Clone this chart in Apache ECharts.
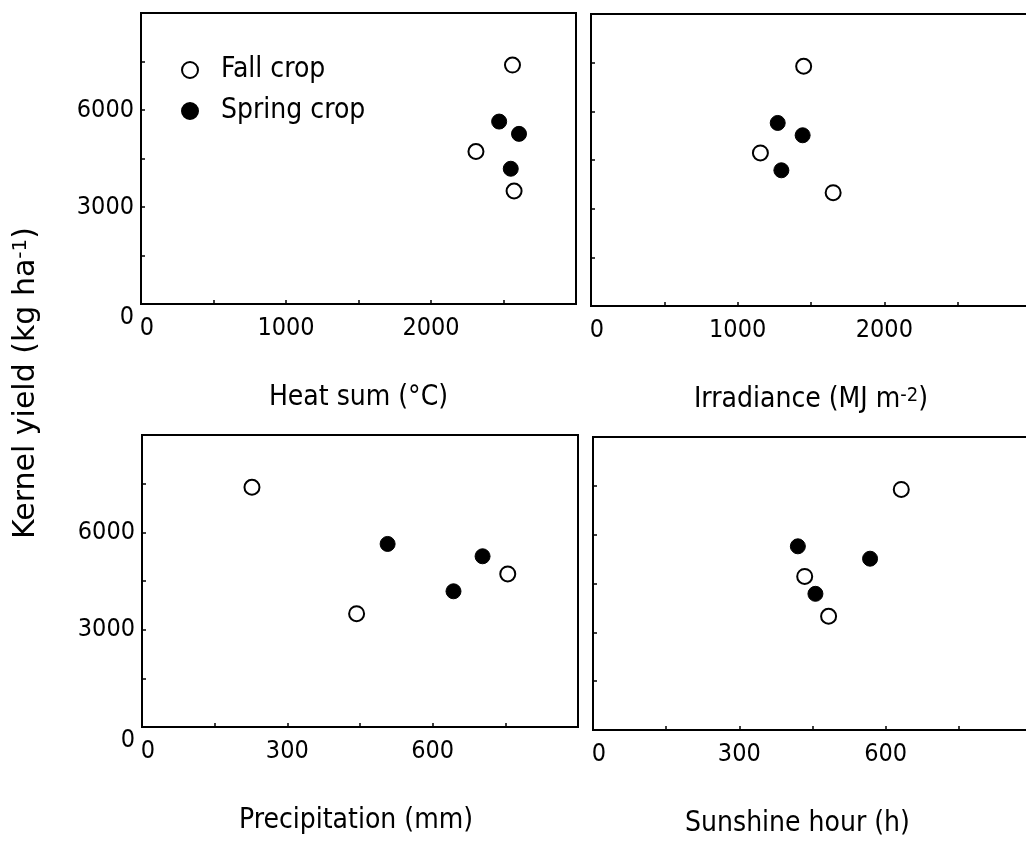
<!DOCTYPE html>
<html><head><meta charset="utf-8">
<script src="https://cdn.jsdelivr.net/npm/echarts@6/dist/echarts.min.js"></script>
<style>html,body{margin:0;padding:0;background:#fff}#c{width:1026px;height:847px}</style>
</head><body><div id="c"></div>
<script>
// Kernel yield (kg/ha) for each environment
const fallYield   = [7390, 4717, 3494];
const springYield = [5642, 5262, 4183];
// Heat sum (°C)
const fallHeat   = [2562, 2310, 2573];
const springHeat = [2470, 2607, 2550];
// Irradiance (MJ m-2)
const fallIrr   = [1450, 1155, 1651];
const springIrr = [1273, 1443, 1298];
// Precipitation (mm)
const fallPrec   = [227, 755, 443];
const springPrec = [507, 703, 643];
// Sunshine hour (h)
const fallSun   = [632, 434, 483];
const springSun = [420, 568, 456];
// tick labels
const yTickLabels = [0, 3000, 6000];
const xTickLabelsTop = [0, 1000, 2000];
const xTickLabelsBottom = [0, 300, 600];
const xTitles = ['Heat sum (°C)', 'Irradiance (MJ m{s|-2})', 'Precipitation (mm)', 'Sunshine hour (h)'];
const yTitle = 'Kernel yield (kg ha{s|-1})';

const FONT = '"DejaVu Sans Condensed","Liberation Sans",sans-serif';
const FS = 28;
const TFS = 25;
const richBase = {
  s: {fontSize: 20, fontFamily: FONT, color: '#000', verticalAlign: 'top', lineHeight: 20}
};

const grids = [
  {left: 141, top: 13, width: 435, height: 291},
  {left: 591, top: 14, width: 440, height: 292},
  {left: 142, top: 435, width: 436, height: 292},
  {left: 593, top: 437, width: 439, height: 293}
].map(g => Object.assign(g, {show: true, borderColor: '#000', borderWidth: 2, backgroundColor: 'transparent', outerBoundsMode: 'none', containLabel: false}));

const xMax = [3000, 3000, 900, 900];
const xInt = [500, 500, 150, 150];
const xLabs = [xTickLabelsTop, xTickLabelsTop, xTickLabelsBottom, xTickLabelsBottom];
const namePad = [[0,0,0,0],[0,0,0,0],[0,8,0,0],[0,30,0,0]];

const xAxis = grids.map((g, i) => ({
  type: 'value', gridIndex: i, min: 0, max: xMax[i], interval: xInt[i],
  axisLine: {show: false},
  splitLine: {show: false},
  axisTick: {show: true, inside: true, length: 4, lineStyle: {color: '#000', width: 1.5}},
  axisLabel: {
    show: true, margin: 12, color: '#000', fontFamily: FONT, fontSize: TFS,
    formatter: v => xLabs[i].includes(v) ? (v === 0 ? '{z|0}' : String(v)) : '',
    rich: {z: {fontFamily: FONT, fontSize: TFS, color: '#000', padding: [0, 0, 0, 12]}}
  },
  name: xTitles[i], nameLocation: 'middle', nameGap: 80,
  nameTextStyle: {color: '#000', fontFamily: FONT, fontSize: FS, padding: namePad[i], rich: richBase}
}));

const yAxis = grids.map((g, i) => ({
  type: 'value', gridIndex: i, min: 0, max: 9000, interval: 1500,
  axisLine: {show: false},
  splitLine: {show: false},
  axisTick: {show: true, inside: true, length: 4, lineStyle: {color: '#000', width: 1.5}},
  axisLabel: {
    show: i % 2 === 0, margin: 7, color: '#000', fontFamily: FONT, fontSize: TFS,
    formatter: v => yTickLabels.includes(v) ? (v === 0 ? '{z|0}' : String(v)) : '',
    rich: {z: {fontFamily: FONT, fontSize: TFS, color: '#000', padding: [26, 0, 0, 0]}}
  }
}));

const fallX = [fallHeat, fallIrr, fallPrec, fallSun];
const springX = [springHeat, springIrr, springPrec, springSun];
const series = [];
for (let i = 0; i < 4; i++) {
  series.push({
    type: 'scatter', name: 'Fall crop', xAxisIndex: i, yAxisIndex: i,
    symbol: 'circle', symbolSize: 15,
    itemStyle: {color: '#fff', borderColor: '#000', borderWidth: 2, opacity: 1},
    data: fallX[i].map((x, k) => [x, fallYield[k]])
  });
  series.push({
    type: 'scatter', name: 'Spring crop', xAxisIndex: i, yAxisIndex: i,
    symbol: 'circle', symbolSize: 15,
    itemStyle: {color: '#000', borderColor: '#000', borderWidth: 1, opacity: 1},
    data: springX[i].map((x, k) => [x, springYield[k]])
  });
}

const chart = echarts.init(document.getElementById('c'), null, {renderer: 'canvas'});
chart.setOption({
  animation: false,
  backgroundColor: '#fff',
  grid: grids,
  xAxis: xAxis,
  yAxis: yAxis,
  legend: {
    data: ['Fall crop', 'Spring crop'], orient: 'vertical', left: 176, top: 51,
    itemWidth: 16, itemHeight: 16, itemGap: 13, selectedMode: false,
    textStyle: {color: '#000', fontFamily: FONT, fontSize: FS, padding: [0, 0, 0, 18]}
  },
  graphic: [{
    type: 'text', x: 26, y: 383, rotation: Math.PI / 2,
    style: {
      text: yTitle, fill: '#000', fontFamily: '"DejaVu Sans",sans-serif', fontSize: 30,
      align: 'center', verticalAlign: 'middle',
      rich: {s: {fontSize: 20, fontFamily: '"DejaVu Sans",sans-serif', fill: '#000', verticalAlign: 'top', lineHeight: 20}}
    }
  }],
  series: series
});
</script>
</body></html>
